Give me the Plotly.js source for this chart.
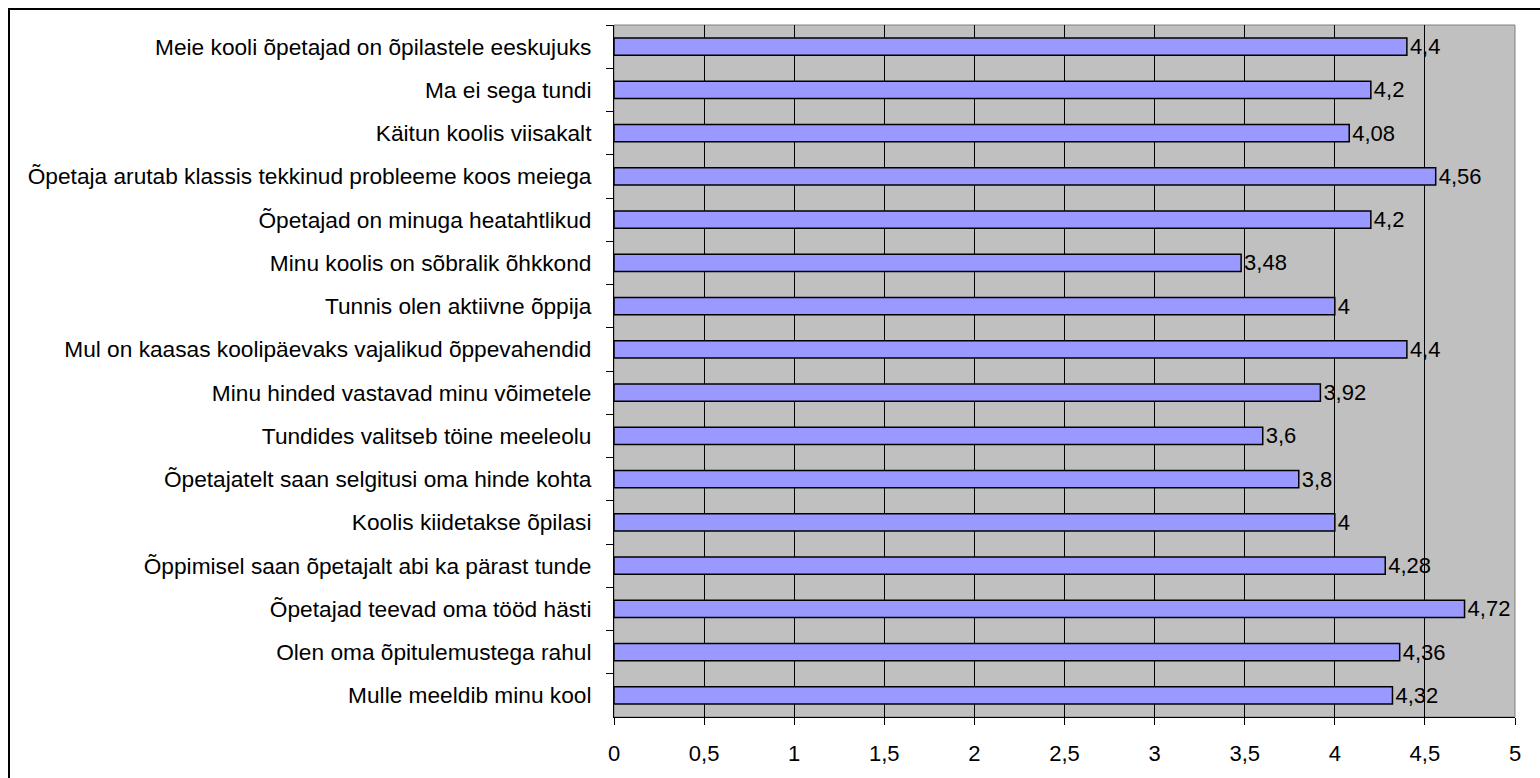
<!DOCTYPE html>
<html>
<head>
<meta charset="utf-8">
<script src="https://cdn.plot.ly/plotly-3.0.1.min.js"></script>
<style>
html,body{margin:0;padding:0;background:#fff;overflow:hidden;}
#wrap{position:relative;width:1540px;height:778px;}
#chart{width:1540px;height:778px;}
#frame{position:absolute;left:8px;top:8px;width:1600px;height:900px;border-top:2px solid #000;border-left:2px solid #000;pointer-events:none;}
</style>
</head>
<body>
<div id="wrap"><div id="chart"></div><div id="frame"></div></div>
<script>
const categories = [
  "Meie kooli õpetajad on õpilastele eeskujuks",
  "Ma ei sega tundi",
  "Käitun koolis viisakalt",
  "Õpetaja arutab klassis tekkinud probleeme koos meiega",
  "Õpetajad on minuga heatahtlikud",
  "Minu koolis on sõbralik õhkkond",
  "Tunnis olen aktiivne õppija",
  "Mul on kaasas koolipäevaks vajalikud õppevahendid",
  "Minu hinded vastavad minu võimetele",
  "Tundides valitseb töine meeleolu",
  "Õpetajatelt saan selgitusi oma hinde kohta",
  "Koolis kiidetakse õpilasi",
  "Õppimisel saan õpetajalt abi ka pärast tunde",
  "Õpetajad teevad oma tööd hästi",
  "Olen oma õpitulemustega rahul",
  "Mulle meeldib minu kool"
];
const values = [4.4, 4.2, 4.08, 4.56, 4.2, 3.48, 4, 4.4, 3.92, 3.6, 3.8, 4, 4.28, 4.72, 4.36, 4.32];
const xTicks = [0, 0.5, 1, 1.5, 2, 2.5, 3, 3.5, 4, 4.5, 5];

const L = 614, R = 1515, T = 25, B = 717, W = 1540, H = 778;

const trace = {
  type: 'bar',
  orientation: 'h',
  y: categories,
  x: values,
  marker: {color: '#9999FF', line: {color: '#000000', width: 1.5}},
  text: values.map(v => String(v).replace('.', ',')),
  textposition: 'outside',
  constraintext: 'none',
  textfont: {family: 'Liberation Sans, Arial, sans-serif', size: 22, color: '#000'},
  cliponaxis: false,
  hoverinfo: 'none'
};

const layout = {
  width: W, height: H,
  margin: {l: L, r: W - R, t: T, b: H - B, pad: 0},
  paper_bgcolor: '#ffffff',
  plot_bgcolor: '#C0C0C0',
  separators: ', ',
  bargap: 0.6,
  showlegend: false,
  font: {family: 'Liberation Sans, Arial, sans-serif', size: 22, color: '#000'},
  xaxis: {
    range: [0, 5],
    tickvals: xTicks,
    ticktext: xTicks.map(v => String(v).replace('.', ',')),
    showgrid: true, gridcolor: '#000000', gridwidth: 1,
    zeroline: false,
    showline: true, linecolor: '#000000', linewidth: 1,
    ticks: 'outside', ticklen: 7, tickcolor: '#000', tickwidth: 1,
    ticklabelstandoff: 10,
    tickfont: {size: 22},
    fixedrange: true
  },
  yaxis: {
    type: 'category',
    autorange: 'reversed',
    tickson: 'boundaries',
    showgrid: false,
    showline: true, linecolor: '#000000', linewidth: 1,
    ticks: 'outside', ticklen: 7, tickcolor: '#000', tickwidth: 1,
    ticklabelstandoff: 17,
    tickfont: {size: 22.7},
    fixedrange: true
  },
  shapes: [
    {type: 'rect', xref: 'paper', yref: 'paper', x0: 0, x1: 1, y0: 0, y1: 1,
     line: {color: '#808080', width: 1}, fillcolor: 'rgba(0,0,0,0)', layer: 'below'}
  ]
};

Plotly.newPlot('chart', [trace], layout, {displayModeBar: false, staticPlot: true});
</script>
</body>
</html>
